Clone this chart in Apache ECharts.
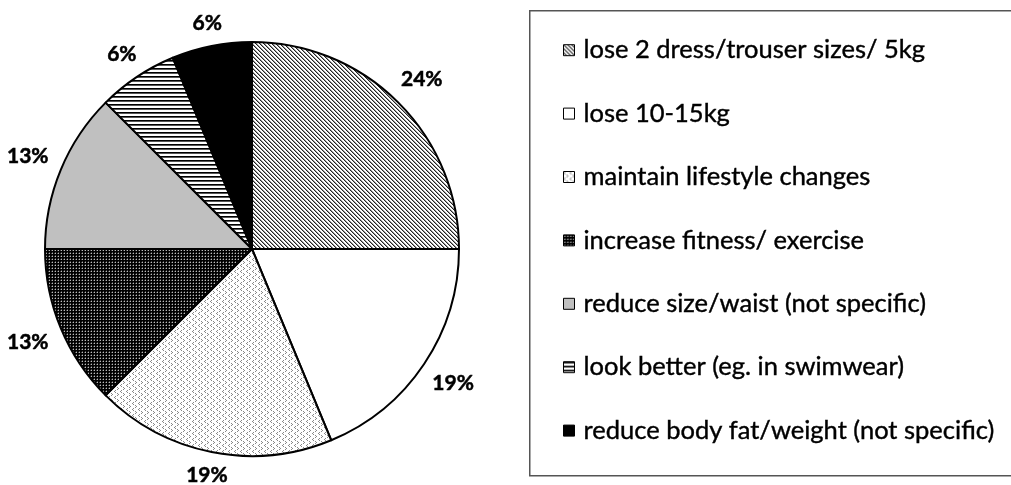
<!DOCTYPE html>
<html>
<head>
<meta charset="utf-8">
<script src="https://cdn.jsdelivr.net/npm/echarts@6/dist/echarts.min.js"></script>
<style>html,body{margin:0;padding:0;background:#fff;}#c{width:1011px;height:485px;}</style>
</head>
<body>
<div id="c"></div>
<script>
const categories = [
  'lose 2 dress/trouser sizes/ 5kg',
  'lose 10-15kg',
  'maintain lifestyle changes',
  'increase fitness/ exercise',
  'reduce size/waist (not specific)',
  'look better (eg. in swimwear)',
  'reduce body fat/weight (not specific)'
];
// slice sizes as measured from the slice angles
const values = [25, 18.75, 18.75, 12.5, 12.5, 6.25, 6.25];
// percentage labels as printed on the chart
const pctLabels = ['24%', '19%', '19%', '13%', '13%', '6%', '6%'];

function pat(w, h, bg, draw) {
  const c = document.createElement('canvas');
  c.width = w; c.height = h;
  const g = c.getContext('2d');
  g.fillStyle = bg; g.fillRect(0, 0, w, h);
  draw(g);
  return { image: c, repeat: 'repeat' };
}
function px(g, col, pts) { g.fillStyle = col; pts.forEach(p => g.fillRect(p[0], p[1], 1, 1)); }

const fills = [
  pat(4, 4, '#ffffff', g => { px(g, '#222', [[0,0],[1,1],[2,2],[3,3]]); px(g, '#999', [[1,0],[2,1],[3,2],[0,3]]); }),
  '#ffffff',
  pat(6, 6, '#ffffff', g => { px(g, '#888', [[1,0],[0,1],[1,2]]); px(g, '#888', [[3,3],[4,4],[3,5]]); }),
  pat(3, 3, '#000000', g => { px(g, '#bbb', [[1,1]]); px(g, '#444', [[0,1],[1,0]]); }),
  '#c0c0c0',
  pat(1, 4, '#ffffff', g => { px(g, '#000', [[0,0]]); px(g, '#555', [[0,1]]); }),
  '#000000'
];

const CX = 252, CY = 249, R = 207;
const font = 'Lato, "Open Sans", sans-serif';
const chart = echarts.init(document.getElementById('c'), null, { renderer: 'canvas' });
chart.setOption({
  animation: false,
  backgroundColor: '#ffffff',
  graphic: [{
    type: 'rect', left: 529, top: 10, silent: true, z: -1,
    shape: { width: 490, height: 465 },
    style: { fill: '#fff', stroke: '#555', lineWidth: 1.5 }
  }],
  legend: {
    orient: 'vertical',
    left: 563, top: 37,
    padding: 0,
    data: categories,
    icon: 'rect',
    itemWidth: 11, itemHeight: 11,
    itemGap: 37,
    itemStyle: { borderColor: '#000', borderWidth: 1 },
    textStyle: { fontFamily: font, fontSize: 25.5, color: '#000', lineHeight: 26, padding: [0,0,0,4],
                 textBorderColor: '#000', textBorderWidth: 0.4 },
    selectedMode: false
  },
  series: [
    {
      type: 'pie',
      center: [CX, CY],
      radius: R,
      startAngle: 90,
      clockwise: true,
      silent: true,
      label: { show: false },
      labelLine: { show: false },
      itemStyle: { borderColor: '#000', borderWidth: 2 },
      data: categories.map((n, i) => ({ name: n, value: values[i], itemStyle: { color: fills[i] } }))
    },
    {
      type: 'pie',
      center: [CX, CY],
      radius: [226, 246],
      startAngle: 90,
      clockwise: true,
      silent: true,
      itemStyle: { color: 'rgba(0,0,0,0)', borderWidth: 0 },
      label: {
        show: true, position: 'inside',
        formatter: p => pctLabels[p.dataIndex],
        fontFamily: font, fontSize: 21, fontWeight: 'bold', color: '#000',
        textBorderColor: '#000', textBorderWidth: 0.5
      },
      labelLayout: p => {
        const r = p.labelRect;
        const mx = r.x + r.width / 2, my = r.y + r.height / 2;
        const ddx = mx - CX, ddy = my - CY;
        const d = Math.sqrt(ddx * ddx + ddy * ddy);
        const ux = ddx / d, uy = ddy / d;
        const D = R + 14 + Math.abs(ux) * r.width / 2 + Math.abs(uy) * 6;
        return { dx: ux * (D - d), dy: uy * (D - d) };
      },
      labelLine: { show: false },
      data: categories.map((n, i) => ({ name: n, value: values[i] }))
    }
  ]
});
</script>
</body>
</html>
